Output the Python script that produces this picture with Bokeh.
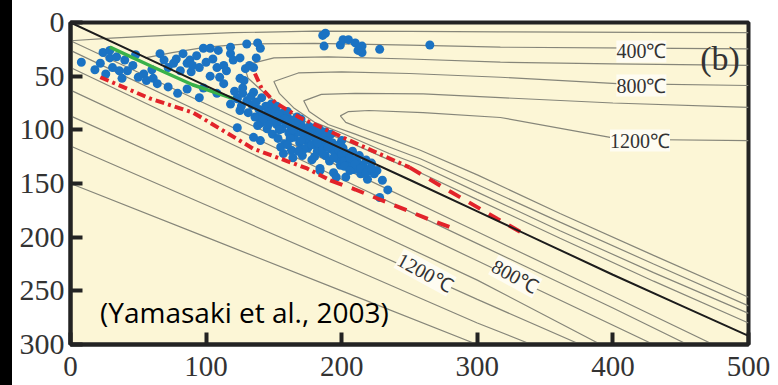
from bokeh.plotting import figure
from bokeh.models import Range1d, Label, FixedTicker
from bokeh.embed import file_html
from bokeh.resources import INLINE

# ---------------- data (distance km, depth km) ----------------
X_TICKS = [0, 100, 200, 300, 400, 500]
Y_TICKS = [0, 50, 100, 150, 200, 250, 300]

SLAB_X = [0, 50, 100, 150, 200, 250, 300, 350, 400, 450, 500]
SLAB_Y = [0, 29.5, 59, 88.5, 117.5, 146.5, 176, 205.5, 235, 263.5, 292]

GREEN_X = [29, 60, 90, 120]
GREEN_Y = [23, 41, 58, 71]

RED_UP_DD_X = [136, 141, 151, 169, 206, 250]
RED_UP_DD_Y = [47.5, 61.5, 74.6, 88.5, 110, 135]
RED_UP_DASH_X = [250, 280, 315, 333]
RED_UP_DASH_Y = [135, 157.5, 183, 196]
RED_LOW_DD_X = [22, 59, 90.5, 134.5, 174.5, 191.5]
RED_LOW_DD_Y = [51, 71, 84, 117.4, 136, 147]
RED_LOW_DASH_X = [191.5, 210, 248, 266.5, 285]
RED_LOW_DASH_Y = [147, 155.6, 175, 184.5, 193]

# isotherms in the mantle wedge
ISO_W1_X = [500, 420, 317, 250, 180, 120, 70, 30, 0]
ISO_W1_Y = [9.5, 9.2, 8.8, 8.2, 8.0, 9.5, 12, 14.5, 17]
ISO_W2_X = [500, 420, 317, 250, 180, 130, 100, 75, 55]
ISO_W2_Y = [24.5, 23.8, 23, 21, 19.5, 20, 23, 28, 33]
ISO_N1_X = [500, 400, 317, 250, 190, 150, 128, 131, 145, 165, 185, 210, 235, 258, 300, 361, 430, 500]
ISO_N1_Y = [40, 38.5, 37, 34, 32, 33, 40, 52, 68, 86, 101, 114, 128, 140, 165, 201, 241, 280]
ISO_N2_X = [500, 403, 317, 250, 200, 168, 150, 154, 165, 180, 200, 235, 258, 300, 361, 430, 500]
ISO_N2_Y = [58.7, 57, 51, 47.5, 46, 47, 55, 66, 80, 93, 103, 122, 133, 158, 194, 233, 271]
ISO_N3_X = [500, 400, 317, 260, 210, 185, 172, 176, 190, 210, 235, 258, 300, 361, 430, 500]
ISO_N3_Y = [79, 75, 70, 66.5, 66, 67, 73, 83, 95, 104, 116, 127, 151, 186, 225, 264]
ISO_N4_X = [500, 420, 398, 317, 260, 220, 205, 199, 203, 215, 235, 258, 300, 361, 430, 500]
ISO_N4_Y = [110, 109, 107, 88.5, 84, 82, 83, 87, 93, 99, 108, 119, 142, 178, 217, 256]

# isotherms in the slab
ISO_L1_X = [0, 100, 200, 300, 400, 474]
ISO_L1_Y = [17, 76, 135, 195, 255, 300]
ISO_L2_X = [0, 100, 200, 300, 400, 455]
ISO_L2_Y = [26, 86, 146, 206, 266, 300]
ISO_L3_X = [0, 100, 200, 300, 430]
ISO_L3_Y = [42, 102, 162, 222, 300]
ISO_L4_X = [0, 100, 200, 300, 391]
ISO_L4_Y = [63, 122, 181, 240, 300]
ISO_L5_X = [0, 100, 200, 300, 376]
ISO_L5_Y = [87, 144, 201, 258, 300]
ISO_L6_X = [0, 100, 200, 300, 340]
ISO_L6_Y = [115, 170, 225, 280, 300]
ISO_L7_X = [0, 100, 200, 300]
ISO_L7_Y = [150, 200, 250, 300]

ISO_LABELS = ["400℃", "800℃", "1200℃", "1200℃", "800℃"]
PANEL_TAG = "(b)"
SOURCE_NOTE = "(Yamasaki et al., 2003)"

# earthquake hypocentres
EQ_LEFT_X = [8, 18, 22, 24, 26, 29, 29, 31, 34, 36, 38, 40, 42, 46, 48, 50, 54, 56, 60, 61,
             64, 66, 69, 72, 72, 76, 78, 79, 81, 83, 86, 86, 88, 89, 90, 93, 95, 95, 98, 98,
             100, 103, 103, 105, 108, 108, 109, 110, 113, 113, 115, 118, 118, 118, 120, 125, 125, 125, 127, 128,
             129, 130, 135, 135, 137, 138, 140, 123, 139, 132, 147]
EQ_LEFT_Y = [37, 44, 38, 28, 48, 26, 33, 42, 32, 45, 52, 35, 45, 40, 30, 51, 48, 54, 44, 52,
             57, 29, 35, 42, 60, 38, 34, 66, 45, 29, 38, 62, 35, 46, 40, 31, 42, 70, 24, 61,
             37, 24, 50, 34, 42, 66, 26, 51, 40, 57, 45, 23, 29, 76, 35, 33, 52, 82, 61, 54,
             43, 20, 42, 65, 33, 19, 24, 71, 88, 40, 79]
EQ_UP_X = [186, 187, 188, 199, 201, 205, 210, 212, 215, 215, 228, 265]
EQ_UP_Y = [12, 22, 10, 21, 16, 16, 19, 26, 22, 28, 25, 21]
EQ_MAIN_X = [121, 123, 126, 127, 130, 131, 133, 134, 136, 137, 139, 140, 141, 142, 144, 145, 146, 147, 148, 149,
             150, 151, 152, 153, 154, 155, 156, 157, 158, 159, 160, 161, 162, 163, 164, 165, 166, 167, 168, 169,
             170, 171, 172, 173, 174, 175, 176, 177, 178, 179, 180, 181, 182, 183, 184, 185, 186, 187, 188, 189,
             190, 191, 192, 193, 194, 195, 196, 197, 198, 199, 200, 201, 202, 203, 204, 205, 206, 208, 209, 210,
             212, 213, 214, 216, 218, 219, 220, 222, 224, 226, 230, 234, 228, 196, 184, 175, 164, 157, 155, 140,
             135, 123, 152, 160, 170, 180, 188,
             150, 154, 158, 162, 166, 170, 172, 176, 178, 182, 186, 190, 194, 198, 202, 206, 210, 214, 218, 222,
             200, 192, 184, 164, 146, 142, 138, 160, 168, 180]
EQ_MAIN_Y = [64, 70, 78, 66, 73, 84, 69, 77, 88, 74, 81, 94, 70, 86, 78, 99, 83, 90, 76, 104,
             87, 80, 95, 108, 85, 91, 99, 84, 113, 94, 88, 103, 96, 119, 91, 107, 98, 88, 102, 112,
             95, 124, 104, 99, 110, 116, 97, 106, 128, 101, 113, 108, 120, 104, 136, 111, 117, 106, 124, 113,
             109, 129, 118, 112, 140, 121, 115, 127, 119, 133, 123, 117, 129, 144, 122, 133, 126, 120, 137, 128,
             131, 124, 141, 134, 128, 146, 137, 131, 141, 138, 147, 156, 163, 144, 138, 117, 126, 122, 116, 110,
             107, 98, 78, 83, 90, 98, 102,
             92, 100, 90, 108, 94, 110, 118, 102, 114, 112, 122, 116, 126, 114, 134, 138, 132, 136, 140, 136,
             110, 104, 100, 100, 95, 90, 96, 114, 120, 125]

# ---------------- figure ----------------
p = figure(width=766, height=385, output_backend="svg", toolbar_location=None,
           x_range=Range1d(0, 500), y_range=Range1d(300, 0),
           min_border_left=58, min_border_right=30, min_border_top=22, min_border_bottom=41)
p.background_fill_color = "#fcf6d6"
p.border_fill_color = "#ffffff"
p.outline_line_color = "#232323"
p.outline_line_width = 4
p.xgrid.grid_line_color = None
p.ygrid.grid_line_color = None

p.xaxis.ticker = FixedTicker(ticks=X_TICKS)
p.yaxis.ticker = FixedTicker(ticks=Y_TICKS)
for ax in (p.xaxis[0], p.yaxis[0]):
    ax.axis_line_width = 4
    ax.axis_line_color = "#232323"
    ax.major_tick_in = 12
    ax.major_tick_out = 0
    ax.major_tick_line_width = 4
    ax.major_tick_line_color = "#232323"
    ax.minor_tick_line_color = None
    ax.major_label_text_font = "Liberation Serif"
    ax.major_label_text_color = "#333333"
p.xaxis.major_label_text_font_size = "29px"
p.yaxis.major_label_text_font_size = "30px"
p.xaxis.major_label_standoff = 12
p.yaxis.major_label_standoff = 6

ISO_COLOR = "#86867a"
for xs, ys in [(ISO_W1_X, ISO_W1_Y), (ISO_W2_X, ISO_W2_Y), (ISO_N1_X, ISO_N1_Y), (ISO_N2_X, ISO_N2_Y),
               (ISO_N3_X, ISO_N3_Y), (ISO_N4_X, ISO_N4_Y), (ISO_L1_X, ISO_L1_Y), (ISO_L2_X, ISO_L2_Y),
               (ISO_L3_X, ISO_L3_Y), (ISO_L4_X, ISO_L4_Y), (ISO_L5_X, ISO_L5_Y), (ISO_L6_X, ISO_L6_Y),
               (ISO_L7_X, ISO_L7_Y)]:
    p.line(xs, ys, line_color=ISO_COLOR, line_width=1.2)

BLUE = "#1b73c3"
p.scatter(EQ_LEFT_X, EQ_LEFT_Y, size=9, fill_color=BLUE, line_color=None)
p.scatter(EQ_UP_X, EQ_UP_Y, size=9, fill_color=BLUE, line_color=None)
p.scatter(EQ_MAIN_X, EQ_MAIN_Y, size=9, fill_color=BLUE, line_color=None)

RED = "#e2232a"
p.line(RED_UP_DD_X, RED_UP_DD_Y, line_color=RED, line_width=4, line_dash="9 4 3 4")
p.line(RED_UP_DASH_X, RED_UP_DASH_Y, line_color=RED, line_width=4, line_dash="13 10")
p.line(RED_LOW_DD_X, RED_LOW_DD_Y, line_color=RED, line_width=4, line_dash="9 4 3 4")
p.line(RED_LOW_DASH_X, RED_LOW_DASH_Y, line_color=RED, line_width=4, line_dash="13 10")

p.line(GREEN_X, GREEN_Y, line_color="#39b24a", line_width=3.5)
p.line(SLAB_X, SLAB_Y, line_color="#1c1c1c", line_width=2)

label_style = dict(text_font="Liberation Serif", text_font_size="20px", text_color="#333333",
                   text_align="center", text_baseline="middle", background_fill_color="#fefcf2")
p.add_layout(Label(x=421, y=27, text=ISO_LABELS[0], **label_style))
p.add_layout(Label(x=421, y=58.7, text=ISO_LABELS[1], **label_style))
p.add_layout(Label(x=420, y=110, text=ISO_LABELS[2], **label_style))
p.add_layout(Label(x=261.5, y=233, text=ISO_LABELS[3], angle=-0.5, **label_style))
p.add_layout(Label(x=328, y=236.7, text=ISO_LABELS[4], angle=-0.5, **label_style))

p.add_layout(Label(x=479, y=33.5, text=PANEL_TAG, text_font="Liberation Serif", text_font_size="34px",
                   text_color="#333333", text_align="center", text_baseline="middle"))
p.add_layout(Label(x=21.8, y=270, text=SOURCE_NOTE, text_font="Open Sans", text_font_size="28px",
                   text_color="#000000", text_align="left", text_baseline="middle"))

html = file_html(p, INLINE)
html = html.replace("</head>", "<style>body { border-left: 12px solid #000000; }</style>\n</head>", 1)
open("out.html", "w").write(html)
